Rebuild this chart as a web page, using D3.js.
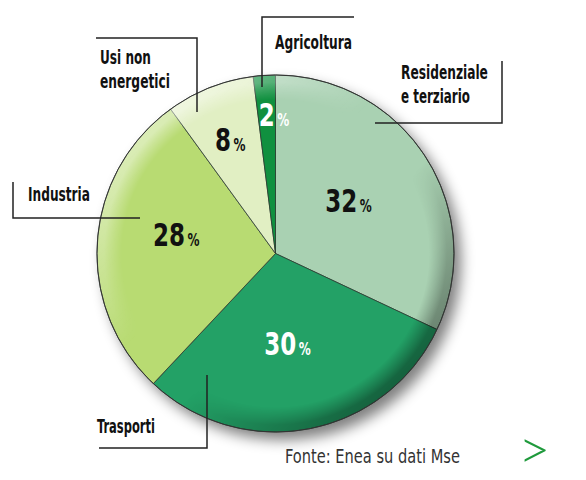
<!DOCTYPE html>
<html>
<head>
<meta charset="utf-8">
<script src="https://cdn.jsdelivr.net/npm/d3@7"></script>
<style>
  html, body { margin: 0; padding: 0; background: #fff; }
  svg { display: block; }
  .cond { font-family: "Liberation Sans Narrow", "DejaVu Sans Condensed", "Roboto Condensed", sans-serif; font-stretch: condensed; }
</style>
</head>
<body>
<svg id="chart" width="586" height="480"></svg>
<script>
'use strict';

/* Data */
var categories = ["Residenziale e terziario", "Trasporti", "Industria", "Usi non energetici", "Agricoltura"];
var values = [32, 30, 28, 8, 2];
var nameLines = [["Residenziale", "e terziario"], ["Trasporti"], ["Industria"], ["Usi non", "energetici"], ["Agricoltura"]];
var source = "Fonte: Enea su dati Mse";

/* Styles / layout (not data) */
var sliceColors = ["#a9d1b2", "#23a166", "#b8db72", "#e1efc3", "#10903f"];
var pctColors = ["#111", "#fff", "#111", "#111", "#fff"];
var cx = 275.5, cy = 253.5, radius = 178.5;
var digitW = 16, pctW = 12, pctGap = 2.5;

// percent label: radial distance + angular nudge (deg) from slice middle
var pctLayout = [
  {r: 90, da: -3.3},
  {r: 91, da: 3.2},
  {r: 101, da: 7},
  {r: 123, da: 0},
  {r: 139, da: 3}
];

// callout lines and text positions
var callouts = [
  {line: [[375, 123], [502, 123], [502, 61]], x: 401, y: [79, 103], w: [87, 69]},
  {line: [[207, 375], [207, 448], [99, 448]], x: 97, y: [433], w: [58]},
  {line: [[140, 218], [13, 218], [13, 182]], x: 28, y: [201], w: [62]},
  {line: [[197, 112], [197, 38], [96, 38]], x: 100, y: [64, 88], w: [51, 70]},
  {line: [[262, 87], [262, 17], [354, 17]], x: 275, y: [49], w: [77]}
];

var svg = d3.select("#chart");
var defs = svg.append("defs");

// squeeze a text horizontally to a target width (keeps its box honest)
function fitText(sel, x, y, w) {
  var natural = sel.node().getComputedTextLength() || w;
  sel.attr("x", 0).attr("y", 0)
    .attr("transform", "translate(" + x + "," + y + ") scale(" + (w / natural) + ",1)");
  return sel;
}

// drop shadow
var shadow = defs.append("filter").attr("id", "shadow")
  .attr("x", "-20%").attr("y", "-20%").attr("width", "140%").attr("height", "140%");
shadow.append("feGaussianBlur").attr("stdDeviation", 7);

// bevel light (top-left bright, bottom-right dark)
var bevel = defs.append("linearGradient").attr("id", "bevel")
  .attr("x1", 0).attr("y1", 0).attr("x2", 1).attr("y2", 1);
bevel.append("stop").attr("offset", "0").attr("stop-color", "#fff").attr("stop-opacity", 0.75);
bevel.append("stop").attr("offset", "0.42").attr("stop-color", "#fff").attr("stop-opacity", 0.0);
bevel.append("stop").attr("offset", "0.58").attr("stop-color", "#000").attr("stop-opacity", 0.0);
bevel.append("stop").attr("offset", "1").attr("stop-color", "#000").attr("stop-opacity", 0.6);

var ringGrad = defs.append("radialGradient").attr("id", "ringGrad");
ringGrad.append("stop").attr("offset", "0").attr("stop-color", "#000");
ringGrad.append("stop").attr("offset", "0.86").attr("stop-color", "#000");
ringGrad.append("stop").attr("offset", "0.96").attr("stop-color", "#fff");
ringGrad.append("stop").attr("offset", "1").attr("stop-color", "#fff");

defs.append("mask").attr("id", "ring")
  .attr("maskUnits", "userSpaceOnUse")
  .attr("x", 0).attr("y", 0).attr("width", 586).attr("height", 480)
  .append("circle").attr("cx", cx).attr("cy", cy).attr("r", radius)
  .attr("fill", "url(#ringGrad)");

// shadow under pie
svg.append("circle")
  .attr("cx", cx + 7).attr("cy", cy + 8).attr("r", radius)
  .attr("fill", "#000").attr("opacity", 0.5)
  .attr("filter", "url(#shadow)");

var pie = d3.pie().sort(null).startAngle(0).endAngle(2 * Math.PI);
var arcs = pie(values);
var arc = d3.arc().innerRadius(0).outerRadius(radius);

var g = svg.append("g").attr("transform", "translate(" + cx + "," + cy + ")");

g.selectAll("path.slice")
  .data(arcs)
  .enter()
  .append("path")
  .attr("class", "slice")
  .attr("d", arc)
  .attr("fill", function(d, i) { return sliceColors[i]; })
  .attr("stroke", "#2f3d33")
  .attr("stroke-width", 0.8)
  .attr("stroke-linejoin", "round");

// rim shading
svg.append("circle")
  .attr("cx", cx).attr("cy", cy).attr("r", radius)
  .attr("fill", "url(#bevel)")
  .attr("mask", "url(#ring)");

svg.append("circle")
  .attr("cx", cx).attr("cy", cy).attr("r", radius)
  .attr("fill", "none").attr("stroke", "#333").attr("stroke-width", 1);

// percent labels: number and "%" as separate texts
var labels = svg.append("g").attr("transform", "translate(" + cx + "," + cy + ")");
arcs.forEach(function(d, i) {
  var lay = pctLayout[i];
  var a = (d.startAngle + d.endAngle) / 2 + lay.da * Math.PI / 180;
  var x = Math.sin(a) * lay.r, y = -Math.cos(a) * lay.r;
  var numW = String(d.data).length * digitW;
  var left = x - (numW + pctGap + pctW) / 2;

  var num = labels.append("text")
    .attr("class", "cond")
    .attr("font-size", 32).attr("font-weight", "bold")
    .attr("fill", pctColors[i])
    .text(d.data);
  fitText(num, left, y + 11.5, numW);

  var pct = labels.append("text")
    .attr("class", "cond")
    .attr("font-size", 17).attr("font-weight", "bold")
    .attr("fill", pctColors[i])
    .text("%");
  fitText(pct, left + numW + pctGap, y + 11.5, pctW);
});

// callouts
var line = d3.line();
svg.selectAll("path.callout")
  .data(callouts)
  .enter()
  .append("path")
  .attr("class", "callout")
  .attr("d", function(d) { return line(d.line); })
  .attr("fill", "none")
  .attr("stroke", "#222")
  .attr("stroke-width", 1.5);

callouts.forEach(function(c, i) {
  nameLines[i].forEach(function(txt, j) {
    var t = svg.append("text")
      .attr("class", "cond")
      .attr("font-size", 19)
      .attr("font-weight", "bold")
      .attr("fill", "#111")
      .text(txt);
    fitText(t, c.x, c.y[j], c.w[j]);
  });
});

// source
var src = svg.append("text")
  .attr("class", "cond")
  .attr("font-size", 20)
  .attr("fill", "#333")
  .text(source);
fitText(src, 285, 463, 175);

// arrow glyph
svg.append("text")
  .attr("x", 518).attr("y", 469)
  .attr("font-family", "Lato, 'DejaVu Sans', sans-serif")
  .attr("font-weight", 300)
  .attr("font-size", 56)
  .attr("fill", "#1f9a3c")
  .text(">");
</script>
</body>
</html>
